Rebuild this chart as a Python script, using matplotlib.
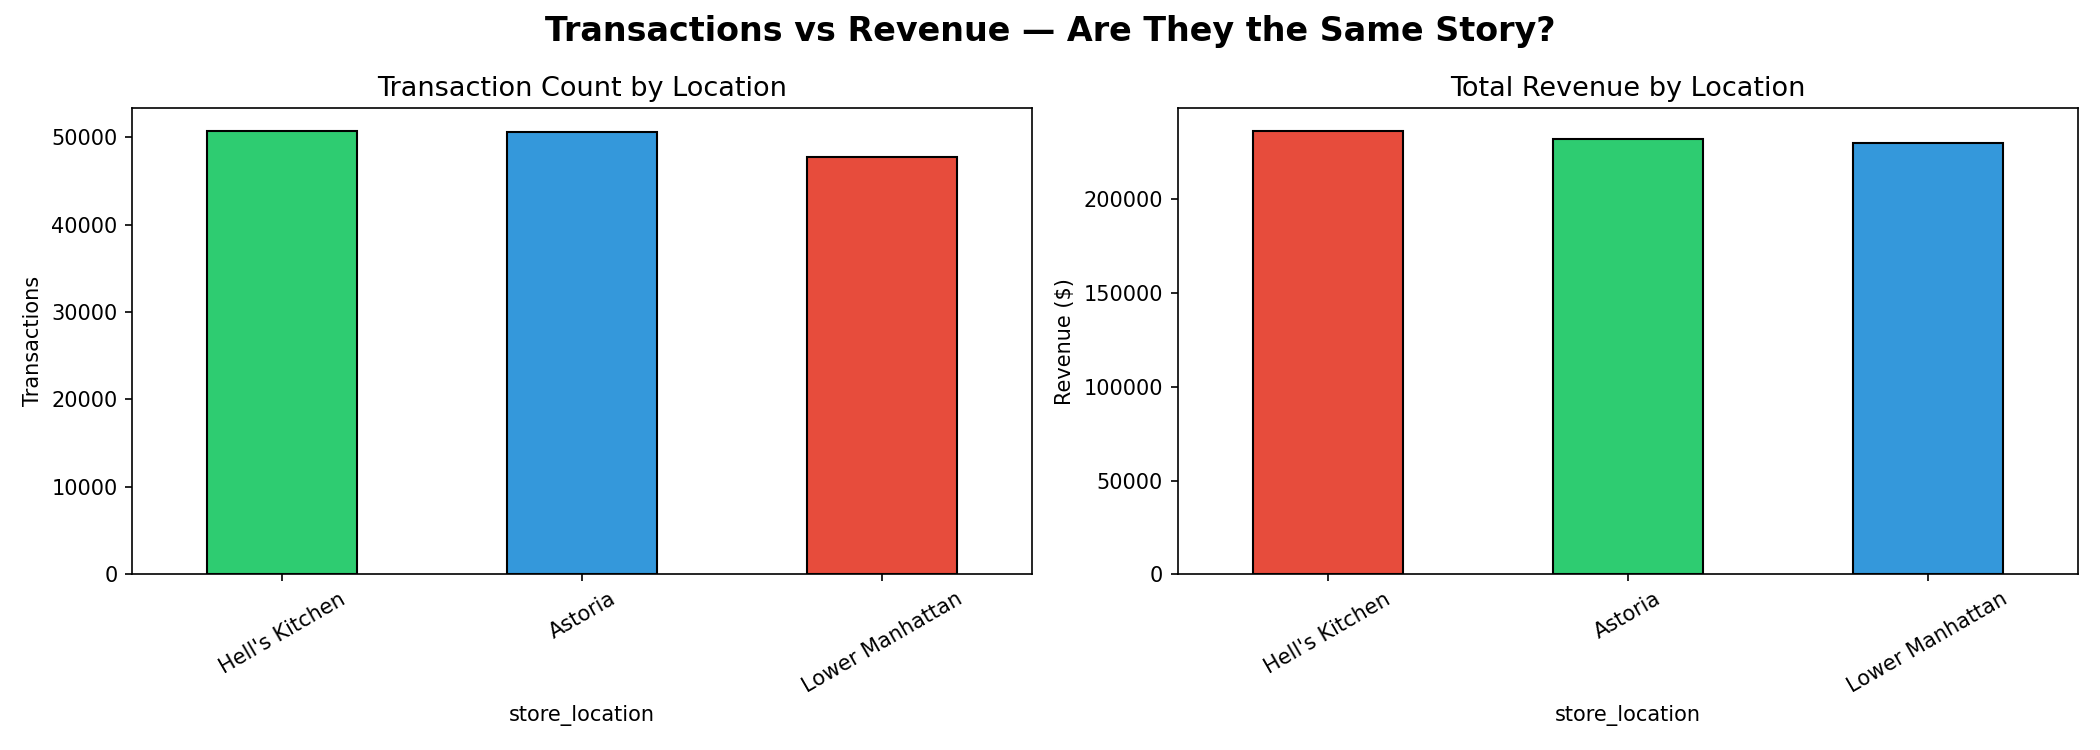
import matplotlib
matplotlib.use("Agg")
import matplotlib.pyplot as plt
import pandas as pd

locations = ["Hell's Kitchen", "Astoria", "Lower Manhattan"]
transactions = [50735, 50599, 47782]

rev_locations = ["Hell's Kitchen", "Astoria", "Lower Manhattan"]
revenue = [236511.17, 232243.91, 230057.25]

tx_colors = ["#2ecc71", "#3498db", "#e74c3c"]
rev_colors = ["#e74c3c", "#2ecc71", "#3498db"]

tx = pd.Series(transactions, index=pd.Index(locations, name="store_location"))
rev = pd.Series(revenue, index=pd.Index(rev_locations, name="store_location"))

fig, axes = plt.subplots(1, 2, figsize=(14, 5))

tx.plot(kind="bar", ax=axes[0], color=tx_colors, edgecolor="black", rot=30)
axes[0].set_title("Transaction Count by Location", fontsize=13)
axes[0].set_ylabel("Transactions")

rev.plot(kind="bar", ax=axes[1], color=rev_colors, edgecolor="black", rot=30)
axes[1].set_title("Total Revenue by Location", fontsize=13)
axes[1].set_ylabel("Revenue ($)")

fig.suptitle("Transactions vs Revenue — Are They the Same Story?", fontsize=16, fontweight="bold")
plt.tight_layout()
plt.savefig("out.png", dpi=150)
plt.close(fig)
